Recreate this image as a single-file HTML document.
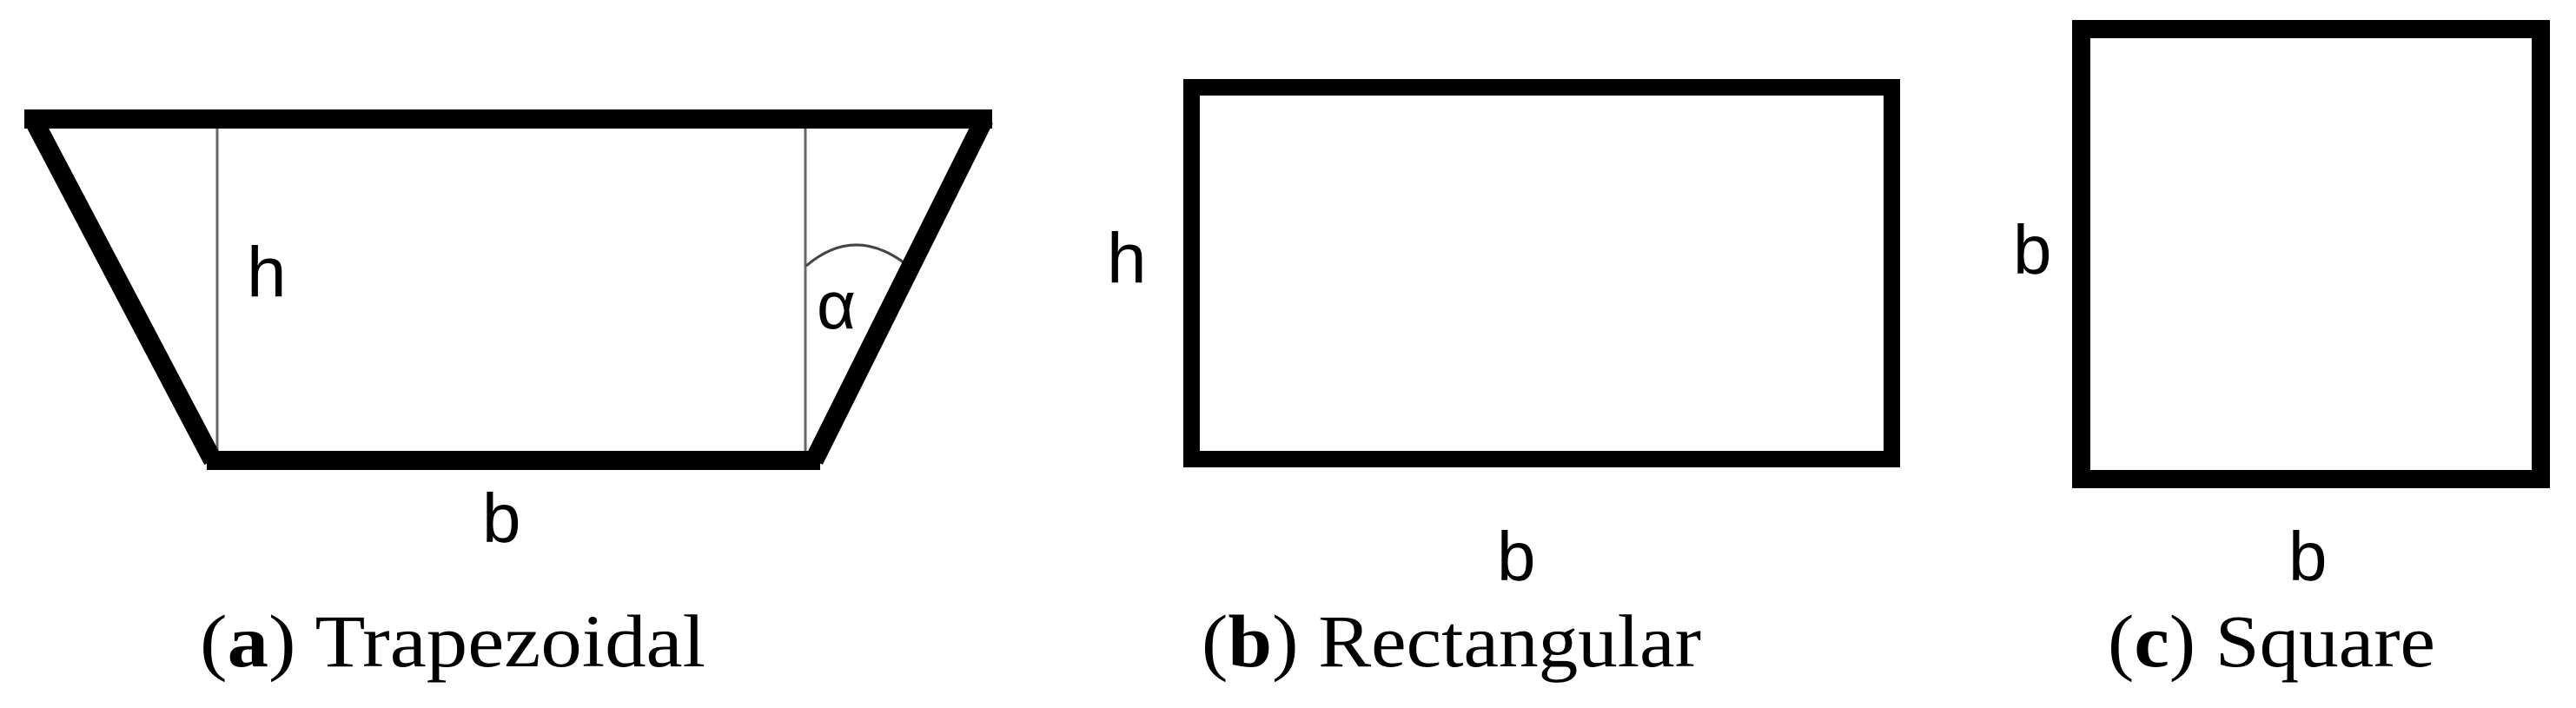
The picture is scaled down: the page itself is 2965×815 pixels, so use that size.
<!DOCTYPE html>
<html><head><meta charset="utf-8"><style>
html,body{margin:0;padding:0;background:#fff;}
svg{display:block;}
</style></head><body>
<svg width="2965" height="815" viewBox="0 0 2965 815" xmlns="http://www.w3.org/2000/svg">
<rect width="2965" height="815" fill="#fff"/>
<!-- Trapezoid -->
<line x1="250" y1="137" x2="250" y2="530" stroke="#666" stroke-width="3"/>
<line x1="927" y1="137" x2="927" y2="530" stroke="#666" stroke-width="3"/>
<path d="M928 306 Q982 260 1040 302" fill="none" stroke="#444" stroke-width="3"/>
<g stroke="#000" stroke-width="22" fill="none" stroke-linecap="butt">
<line x1="28" y1="137" x2="1142" y2="137"/>
<line x1="238" y1="530" x2="944" y2="530"/>
<line x1="38" y1="137" x2="245" y2="530"/>
<line x1="1133" y1="137" x2="937" y2="530"/>
</g>
<g font-family="Liberation Sans, sans-serif" fill="#000">
<text x="284" y="341" font-size="82">h</text>
<text x="940" y="378" font-size="78">α</text>
<text x="555" y="624" font-size="80">b</text>
<text x="1274" y="325" font-size="82">h</text>
<text x="1723" y="668" font-size="80">b</text>
<text x="2317" y="315" font-size="80">b</text>
<text x="2634" y="668" font-size="80">b</text>
</g>
<!-- Rectangle -->
<rect x="1371.5" y="100.5" width="806" height="428" fill="none" stroke="#000" stroke-width="19"/>
<!-- Square -->
<rect x="2395.5" y="33.5" width="529" height="518" fill="none" stroke="#000" stroke-width="21"/>
<!-- Captions -->
<g font-family="Liberation Serif, serif" font-size="86" fill="#000">
<text x="230" y="767" textLength="582" lengthAdjust="spacingAndGlyphs">(<tspan font-weight="bold">a</tspan>) Trapezoidal</text>
<text x="1383" y="767" textLength="575" lengthAdjust="spacingAndGlyphs">(<tspan font-weight="bold">b</tspan>) Rectangular</text>
<text x="2426" y="767" textLength="377" lengthAdjust="spacingAndGlyphs">(<tspan font-weight="bold">c</tspan>) Square</text>
</g>
</svg>
</body></html>
